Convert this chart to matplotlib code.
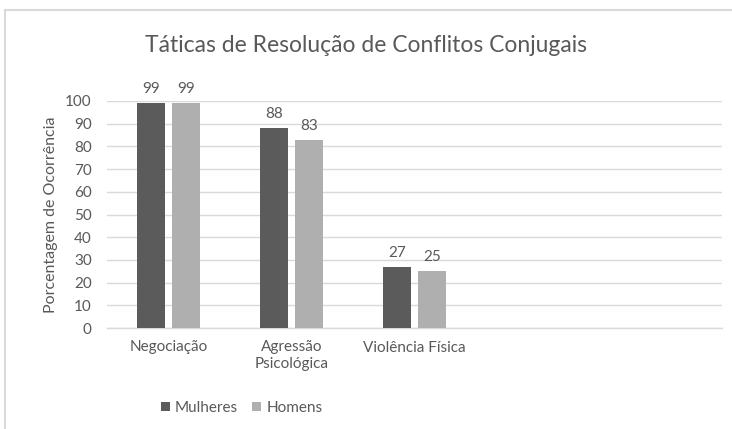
import matplotlib
matplotlib.use("Agg")
import matplotlib.pyplot as plt
import numpy as np
from matplotlib.lines import Line2D

categories = ["Negociação", "Agressão\nPsicológica", "Violência Física", "", ""]
mulheres = [99, 88, 27, None, None]
homens = [99, 83, 25, None, None]
series_names = ["Mulheres", "Homens"]
yticks = list(range(0, 101, 10))

plt.rcParams['font.family'] = ['Lato', 'DejaVu Sans']
txt = '#595959'
grid_c = '#d9d9d9'
c_dark = '#5b5b5b'
c_light = '#afafaf'

fig = plt.figure(figsize=(7.32, 4.29), dpi=100)
ax = fig.add_axes([107/732, 1-328/429, (722-107)/732, (328-101)/429])

x = np.arange(len(categories))
w = 0.224
off = (w + 0.065) / 2
for vals, sgn, col, name in [(mulheres, -1, c_dark, series_names[0]), (homens, 1, c_light, series_names[1])]:
    xs = [xi + sgn*off for xi, v in zip(x, vals) if v is not None]
    vs = [v for v in vals if v is not None]
    bars = ax.bar(xs, vs, width=w, color=col, label=name, zorder=3)
    for b, v in zip(bars, vs):
        ax.annotate(str(v), (b.get_x() + b.get_width()/2, v), xytext=(0, 5),
                    textcoords='offset points', ha='center', va='bottom',
                    fontsize=11, color=txt)

ax.set_xlim(-0.5, len(categories) - 0.5)
ax.set_ylim(0, 100)
ax.set_yticks(yticks)
ax.yaxis.grid(True, color=grid_c, linewidth=1, zorder=0)
ax.set_axisbelow(True)
for s in ['top', 'right', 'left']:
    ax.spines[s].set_visible(False)
ax.spines['bottom'].set_color(grid_c)
ax.spines['bottom'].set_linewidth(1)
ax.tick_params(axis='both', length=0, colors=txt, labelsize=11)
ax.tick_params(axis='y', pad=11)
ax.tick_params(axis='x', pad=9)
ax.set_xticks(x)
ax.set_xticklabels(categories, linespacing=1.25)
ax.set_ylabel("Porcentagem de Ocorrência", color=txt, fontsize=11.5, labelpad=5)

fig.text(0.5, 1-45/429, "Táticas de Resolução de Conflitos Conjugais",
         ha='center', va='center', fontsize=16.5, color=txt)

leg = fig.legend(loc='center', bbox_to_anchor=(0.33, 1-408/429), ncol=2, frameon=False,
                 fontsize=11, labelcolor=txt, handlelength=0.6, handleheight=0.6,
                 handletextpad=0.35, columnspacing=0.9)

fig.add_artist(Line2D([5/732, 1.0], [1-10/429, 1-10/429], transform=fig.transFigure, color=grid_c, lw=1.5))
fig.add_artist(Line2D([5/732, 5/732], [0, 1-10/429], transform=fig.transFigure, color=grid_c, lw=1.5))

fig.savefig("out.png", dpi=100)
